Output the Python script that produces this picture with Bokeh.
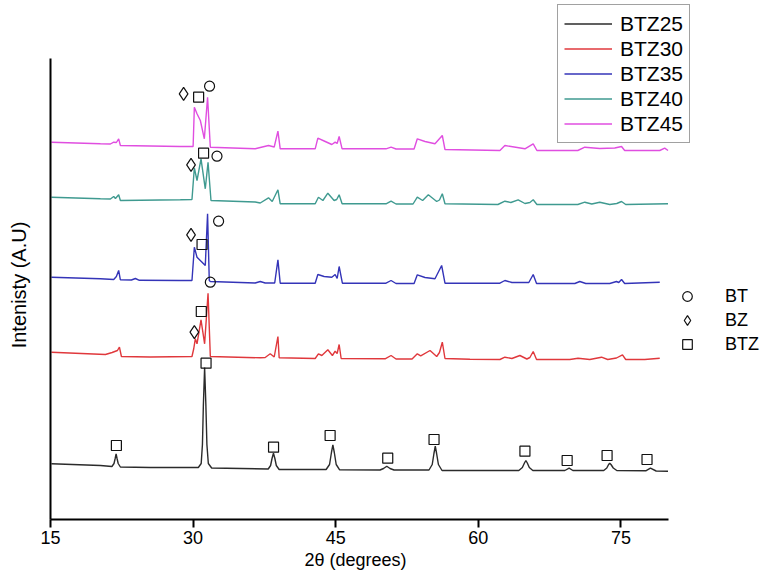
from bokeh.plotting import figure
from bokeh.models import Range1d, FixedTicker, Legend, LegendItem, Title
from bokeh.embed import file_html
from bokeh.resources import INLINE

FONT = "Liberation Sans"

# ---- data (2theta in degrees, intensity in arbitrary units, stacked) ----
x_ticks = [15, 30, 45, 60, 75]
x_axis_span = (15, 80)
y_axis_span = (0, 461)

btz25_x = [15.1, 20.25, 21.46, 21.68, 21.80, 21.90, 22.00, 22.12, 22.35, 25.5,
           30.55, 30.85, 30.98, 31.08, 31.21, 31.34, 31.45, 31.60, 31.95,
           37.9, 38.15, 38.30, 38.45, 38.60, 38.75, 39.05,
           43.99, 44.35, 44.55, 44.70, 44.85, 45.05, 45.41,
           49.66, 50.03, 50.37, 50.71, 51.13,
           54.81, 55.15, 55.33, 55.47, 55.61, 55.80, 56.18,
           64.26, 64.63, 64.85, 65.0, 65.15, 65.36, 65.73,
           69.1, 69.55, 69.94,
           73.19, 73.51, 73.70, 73.82, 73.95, 74.19, 74.56,
           77.61, 78.1, 78.7, 79.95]
btz25_y = [55.7, 54, 53, 56, 61, 65.7, 61, 56, 52.5, 52,
           52, 56, 75, 115, 152, 115, 75, 56, 51.5,
           50.5, 54, 61, 66.3, 61, 54, 50,
           50, 55, 67, 74.7, 67, 55, 49.7,
           49.5, 51, 53.3, 51, 49.5,
           49.5, 55, 66, 73.3, 66, 55, 49,
           49, 52, 56.5, 59, 56.5, 52, 49,
           49, 51.3, 49,
           49, 51.5, 55, 56.3, 55, 51.5, 49,
           48.7, 51.3, 48.5, 48.3]

btz30_x = [15.1, 20.78, 21.48, 22.04, 22.25, 22.46, 25.5, 29.88, 30.07, 30.23, 30.41, 30.83, 31.21, 31.57, 31.81,
           37.06, 37.58, 38.11, 38.53, 38.92, 39.05, 42.84, 43.18, 43.54, 44.17, 44.65, 44.94, 45.15, 45.36, 45.57,
           50.19, 50.82, 51.34, 53.03, 53.58, 53.94, 54.92, 55.62, 55.91, 56.21, 56.49, 59.12,
           62.27, 62.79, 63.53, 64.37, 65.1, 65.42, 65.77, 66.12, 69.62, 70.49, 71.72,
           72.95, 73.61, 74.53, 75.16, 75.5, 77.5, 79.08]
btz30_y = [167.3, 165, 167, 169, 172.3, 163, 162.5, 163, 171, 180.7, 175.7, 199.7, 175.7, 226.3, 163,
           161.7, 162, 165.7, 162.5, 183, 161.7, 161, 165.7, 164, 169.7, 164, 168.3, 166, 175, 161,
           160.7, 164, 160.5, 160.5, 165.7, 163.7, 169, 163, 167, 177.3, 161, 160.3,
           160, 162.3, 161, 164, 160.5, 162, 168, 160, 160, 161.3, 160,
           162.3, 160, 161.5, 164.7, 160, 160, 161.3]

btz35_x = [15.1, 20.25, 21.65, 21.93, 22.17, 22.35, 23.51, 23.93, 24.35, 28.66, 29.88, 30.13, 30.41, 30.94, 31.28,
           31.52, 31.70, 31.81, 36.53, 37.06, 37.58, 38.58, 38.92, 39.16, 42.84, 43.12, 43.78, 44.59, 44.94,
           45.15, 45.36, 45.70, 50.29, 50.82, 51.34, 53.24, 53.58, 54.39, 55.44, 56.14, 56.49,
           62.27, 62.79, 63.53, 65.31, 65.77, 66.12, 70.15, 70.67, 71.30, 73.82, 74.53, 74.77, 75.06, 75.39, 79.08]
btz35_y = [242.3, 240.7, 240, 243, 249, 239.7, 239.5, 241, 239.2, 239, 239, 272.3, 262.3, 257.3, 254,
           305.7, 239, 238, 236.5, 238, 236.5, 236.5, 259.7, 236.3, 236.3, 245, 243, 242.3, 245,
           241, 253, 236.3, 236.3, 239, 236, 236, 244.7, 242, 240.7, 254, 236.3,
           236.3, 239, 237, 237, 245, 236, 236, 238, 236, 236, 238, 237, 240, 236, 237.3]

btz40_x = [15.1, 20.25, 21.30, 21.65, 21.83, 22.17, 22.35, 28.66, 29.88, 30.13, 30.41, 30.83, 31.28, 31.57, 31.88,
           36.53, 37.06, 37.93, 38.32, 38.92, 39.16, 42.84, 43.18, 43.65, 44.17, 44.83, 45.1, 45.36, 45.67,
           50.29, 50.82, 51.34, 53.13, 53.58, 54.14, 54.74, 55.62, 55.91, 56.21, 56.49,
           62.06, 62.79, 63.42, 64.19, 64.90, 65.42, 65.77, 66.16, 70.46, 71.20, 71.93, 72.77,
           73.82, 74.56, 75.06, 75.5, 79.95]
btz40_y = [322.3, 320.7, 320.5, 323, 321, 324.7, 319, 319.7, 320, 351.7, 339, 360.7, 330.7, 357.3, 319,
           317.5, 316.5, 321.7, 318, 329.7, 315.7, 315.7, 322.3, 319, 326.3, 319, 320, 324.7, 315.7,
           315.7, 318.3, 315.5, 315.5, 322.3, 319, 324.7, 318, 319.5, 325.7, 315.7,
           315, 318.3, 317, 319.7, 316, 317, 319.7, 315, 315, 317.3, 315.5, 317.3,
           315, 316, 318, 315, 315.7]

btz45_x = [15.1, 20.25, 21.30, 21.65, 21.93, 22.17, 22.35, 28.66, 30.0, 30.13, 30.41, 30.76, 31.18, 31.52, 31.81,
           36.53, 37.06, 37.93, 38.53, 38.92, 39.16, 42.84, 43.12, 43.78, 44.59, 44.94, 45.15, 45.36, 45.67,
           50.29, 50.82, 51.34, 53.24, 53.58, 54.39, 55.44, 56.21, 56.49,
           62.27, 62.79, 64.90, 65.77, 66.16, 70.46, 71.20, 72.77, 74.35, 75.06, 75.39, 79.08, 79.6, 79.95]
btz45_y = [377.3, 375.7, 375.5, 377.3, 377, 380.7, 374, 373, 373, 412.3, 405.7, 399, 380.7, 422.3, 372.3,
           370.7, 372, 374, 372.5, 388.3, 370.7, 370.7, 381.3, 378.5, 375, 377.3, 376, 383, 370.7,
           370.7, 372.3, 370.5, 370.5, 380.7, 378, 375.7, 384, 370,
           369, 374, 370.7, 375.7, 369, 369, 372.3, 371, 371.5, 373, 369, 369, 371.3, 369]

# phase markers (BTZ = square, BZ = diamond, BT = circle)
btz_mark_x = [21.93, 31.36, 38.46, 44.41, 50.47, 55.34, 64.9, 69.34, 73.54, 77.74, 30.86, 30.94, 31.10, 30.58]
btz_mark_y = [74, 156.3, 72.3, 84, 61.3, 80, 68.3, 59, 64, 60, 208, 275, 366.3, 422.3]
bz_mark_x = [30.13, 29.78, 29.78, 29.0]
bz_mark_y = [187.3, 284.7, 354.7, 425.7]
bt_mark_x = [31.81, 32.68, 32.51, 31.73]
bt_mark_y = [237.3, 298.3, 363.3, 433.3]

series_names = ["BTZ25", "BTZ30", "BTZ35", "BTZ40", "BTZ45"]
series_colors = ["#2b2b2b", "#e0383c", "#3434b8", "#3f9a90", "#e04ee0"]
series_x = [btz25_x, btz30_x, btz35_x, btz40_x, btz45_x]
series_y = [btz25_y, btz30_y, btz35_y, btz40_y, btz45_y]

# frame spans the whole canvas to the right/top so the legends are not clipped;
# the axis lines are limited to the data spans with `bounds`
W, H = 764, 576
L, B = 50, 57
x_end = x_axis_span[0] + (W - L) * (x_axis_span[1] - x_axis_span[0]) / 618.0
y_end = y_axis_span[0] + (H - B) * (y_axis_span[1] - y_axis_span[0]) / 461.0

p = figure(width=W, height=H, output_backend="svg", toolbar_location=None,
           x_range=Range1d(x_axis_span[0], x_end), y_range=Range1d(y_axis_span[0], y_end),
           min_border_left=L, min_border_right=0, min_border_top=0, min_border_bottom=B)
p.grid.visible = False
p.outline_line_color = None
p.background_fill_color = "white"
p.border_fill_color = "white"

line_renderers = []
for xs, ys, c in zip(series_x, series_y, series_colors):
    line_renderers.append(p.line(xs, ys, line_color=c, line_width=1.4))

mk = dict(fill_alpha=0, line_color="#111111", line_width=1.2)
r_sq = p.scatter(btz_mark_x, btz_mark_y, marker="square", size=10, **mk)
r_di = p.scatter(bz_mark_x, bz_mark_y, marker="diamond", size=13, **mk)
r_ci = p.scatter(bt_mark_x, bt_mark_y, marker="circle", size=10, **mk)

# axes
xa = p.xaxis[0]
xa.bounds = x_axis_span
xa.ticker = FixedTicker(ticks=x_ticks, minor_ticks=[])
xa.axis_line_width = 2
xa.axis_line_color = "black"
xa.major_tick_line_width = 2
xa.major_tick_out = 8
xa.major_tick_in = 0
xa.minor_tick_line_color = None
xa.major_label_text_font = FONT
xa.major_label_text_font_size = "18px"
xa.major_label_text_color = "black"
xa.major_label_standoff = 3

ya = p.yaxis[0]
ya.bounds = y_axis_span
ya.ticker = FixedTicker(ticks=[], minor_ticks=[])
ya.axis_line_width = 2
ya.axis_line_color = "black"
ya.major_tick_line_color = None
ya.minor_tick_line_color = None
# non-breaking spaces move the label's centre down onto the drawn axis span
ya.axis_label = "Intenisty (A.U)" + "\u00a0" * 9
ya.axis_label_text_font = FONT
ya.axis_label_text_font_size = "20px"
ya.axis_label_text_font_style = "normal"
ya.axis_label_text_color = "black"
ya.axis_label_standoff = 21

# x axis title (placed on the drawn axis span, not on the wider frame)
xt = Title(text="2\u03b8 (degrees)", align="left", offset=254, standoff=3,
           text_font=FONT, text_font_size="18px", text_font_style="normal", text_color="black")
p.add_layout(xt, "below")

leg = Legend(items=[LegendItem(label=n, renderers=[r]) for n, r in zip(series_names, line_renderers)],
             location=(507, 376))
leg.border_line_color = "#444444"
leg.border_line_width = 1.5
leg.background_fill_color = "white"
leg.background_fill_alpha = 1
leg.label_text_font = FONT
leg.label_text_font_size = "21px"
leg.label_text_color = "black"
leg.glyph_width = 48
leg.glyph_height = 25
leg.label_height = 25
leg.label_standoff = 8
leg.padding = 6
leg.spacing = 0
leg.margin = 0
p.add_layout(leg, "center")

leg2 = Legend(items=[LegendItem(label="BT", renderers=[r_ci]),
                     LegendItem(label="BZ", renderers=[r_di]),
                     LegendItem(label="BTZ", renderers=[r_sq])],
              location=(625, 163))
leg2.border_line_color = None
leg2.background_fill_alpha = 0
leg2.label_text_font = FONT
leg2.label_text_font_size = "18px"
leg2.label_text_color = "black"
leg2.glyph_width = 24
leg2.glyph_height = 24
leg2.label_height = 24
leg2.label_standoff = 26
leg2.padding = 0
leg2.spacing = 0
leg2.margin = 0
p.add_layout(leg2, "center")

open("out.html", "w").write(file_html(p, INLINE))
